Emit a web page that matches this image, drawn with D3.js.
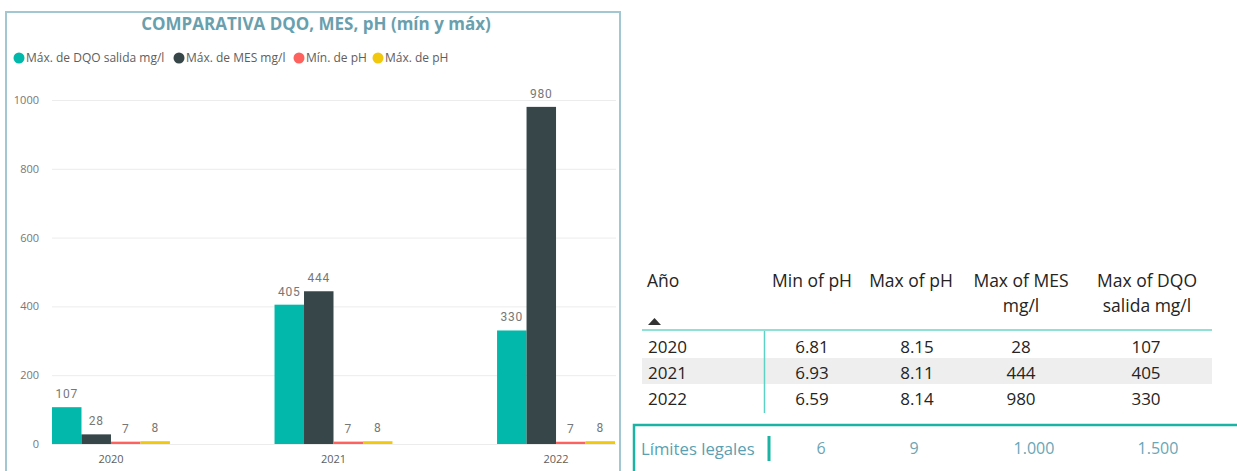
<!DOCTYPE html>
<html>
<head>
<meta charset="utf-8">
<script src="https://cdn.jsdelivr.net/npm/d3@7"></script>
<style>
  body { margin: 0; background: #fff; }
  svg { display: block; font-family: "Open Sans", sans-serif; }
</style>
</head>
<body>
<svg width="1237" height="471"></svg>
<script>
var years = ["2020", "2021", "2022"];
var dqoMax = [107, 405, 330];
var mesMax = [28, 444, 980];
var phMin = [6.81, 6.93, 6.59];
var phMax = [8.15, 8.11, 8.14];
var seriesNames = ["Máx. de DQO salida mg/l", "Máx. de MES mg/l", "Mín. de pH", "Máx. de pH"];
var seriesColors = ["#01B8AA", "#374649", "#FD625E", "#F2C80F"];
var yTicks = [0, 200, 400, 600, 800, 1000];
var tableHeaders = [["Año"], ["Min of pH"], ["Max of pH"], ["Max of MES", "mg/l"], ["Max of DQO", "salida mg/l"]];
var limitLabel = "Límites legales";
var limits = [6, 9, 1000, 1500];

var svg = d3.select("svg");
var es = d3.formatLocale({ decimal: ",", thousands: ".", grouping: [3], currency: ["", "€"] });

// ---------- panel del grafico ----------
svg.append("rect")
  .attr("x", 6).attr("y", 12).attr("width", 614).attr("height", 480)
  .attr("fill", "none").attr("stroke", "#a3c7d2").attr("stroke-width", 2);

svg.append("text")
  .attr("x", 316).attr("y", 30)
  .attr("text-anchor", "middle")
  .attr("font-size", 17).attr("font-weight", "bold")
  .attr("fill", "#6a9fae")
  .text("COMPARATIVA DQO, MES, pH (mín y máx)");

// leyenda
var legendX = [19, 179, 299, 378];
var lg = svg.append("g").selectAll("g")
  .data(seriesNames)
  .join("g")
  .attr("transform", function (d, i) { return "translate(" + legendX[i] + ",58)"; });
lg.append("circle").attr("r", 5.5).attr("fill", function (d, i) { return seriesColors[i]; });
lg.append("text")
  .attr("x", 7).attr("dy", "0.35em")
  .attr("font-size", 12).attr("fill", "#605e5c")
  .text(function (d) { return d; });

var y = d3.scaleLinear().domain([0, 1000]).range([444, 100]);
var x0 = d3.scaleBand().domain(years).range([52, 615]).paddingInner(0.47).paddingOuter(0);
var keys = d3.range(seriesNames.length);
var x1 = d3.scaleBand().domain(keys).range([0, x0.bandwidth()]).padding(0);

// rejilla
var yAxis = d3.axisLeft(y).tickValues(yTicks).tickSize(-(616 - 52)).tickFormat(d3.format("d"));
var ga = svg.append("g").attr("transform", "translate(52,0)").call(yAxis);
ga.select(".domain").remove();
ga.selectAll(".tick line").attr("stroke", "#ececec");
ga.selectAll(".tick text")
  .attr("x", -13)
  .attr("font-size", 11).attr("fill", "#777")
  .attr("font-family", "Open Sans, sans-serif");

var xAxis = d3.axisBottom(x0).tickSize(0);
var gx = svg.append("g").attr("transform", "translate(0,452)").call(xAxis);
gx.select(".domain").remove();
gx.selectAll(".tick text")
  .attr("font-size", 11).attr("fill", "#605e5c")
  .attr("font-family", "Open Sans, sans-serif");

var rows = years.map(function (yr, i) {
  return { year: yr, vals: [dqoMax[i], mesMax[i], phMin[i], phMax[i]] };
});

var groups = svg.append("g").selectAll("g")
  .data(rows)
  .join("g")
  .attr("transform", function (d) { return "translate(" + x0(d.year) + ",0)"; });

groups.selectAll("rect")
  .data(function (d) { return d.vals; })
  .join("rect")
  .attr("x", function (d, i) { return x1(i); })
  .attr("y", function (d) { return y(d); })
  .attr("width", x1.bandwidth())
  .attr("height", function (d) { return y(0) - y(d); })
  .attr("fill", function (d, i) { return seriesColors[i]; });

groups.selectAll("text")
  .data(function (d) { return d.vals; })
  .join("text")
  .attr("x", function (d, i) { return x1(i) + x1.bandwidth() / 2; })
  .attr("y", function (d) { return y(d) - 9; })
  .attr("text-anchor", "middle")
  .attr("font-family", "Roboto, sans-serif")
  .attr("font-size", 12).attr("letter-spacing", 0.7)
  .attr("fill", "#777")
  .text(function (d) { return d3.format(".0f")(d); });

// ---------- tabla ----------
var colX = [647, 812, 911, 1021, 1147];
var valX = [648, 812, 917, 1021, 1146];
var tb = svg.append("g").attr("fill", "#252423");

tableHeaders.forEach(function (lines, c) {
  lines.forEach(function (ln, k) {
    tb.append("text")
      .attr("x", colX[c]).attr("y", 287 + k * 25)
      .attr("text-anchor", c === 0 ? "start" : "middle")
      .attr("font-size", 17.5)
      .text(ln);
  });
});
tb.append("path").attr("d", "M648,325 L661,325 L654.5,318 Z").attr("fill", "#333");

var rowY = d3.scaleBand().domain(years).range([331, 409]);
tb.append("rect")
  .attr("x", 642).attr("y", rowY("2021") + 1)
  .attr("width", 570).attr("height", rowY.bandwidth())
  .attr("fill", "#eeeeee");
tb.append("line")
  .attr("x1", 642).attr("x2", 1212).attr("y1", 330).attr("y2", 330)
  .attr("stroke", "#8fe0d5").attr("stroke-width", 2);
tb.append("line")
  .attr("x1", 764.5).attr("x2", 764.5).attr("y1", 331).attr("y2", 413)
  .attr("stroke", "#5ed1c4").attr("stroke-width", 1.5);

years.forEach(function (yr, i) {
  var cells = [yr, d3.format(".2f")(phMin[i]), d3.format(".2f")(phMax[i]), mesMax[i], dqoMax[i]];
  cells.forEach(function (v, c) {
    tb.append("text")
      .attr("x", valX[c]).attr("y", rowY(yr) + rowY.bandwidth() / 2 + 2.5)
      .attr("dy", "0.36em")
      .attr("text-anchor", c === 0 ? "start" : "middle")
      .attr("font-size", 17)
      .text(v);
  });
});

// caja de limites legales
svg.append("rect")
  .attr("x", 634).attr("y", 425).attr("width", 620).attr("height", 60)
  .attr("fill", "none").attr("stroke", "#1ab3a4").attr("stroke-width", 2.5);
svg.append("rect")
  .attr("x", 767.5).attr("y", 436).attr("width", 3).attr("height", 25)
  .attr("fill", "#1ab3a4");
svg.append("text")
  .attr("x", 641).attr("y", 449).attr("dy", "0.36em")
  .attr("font-size", 16.7).attr("fill", "#5a9fb2")
  .text(limitLabel);
var limX = [821, 914, 1034, 1158];
limits.forEach(function (v, c) {
  svg.append("text")
    .attr("x", limX[c]).attr("y", 448).attr("dy", "0.36em")
    .attr("text-anchor", "middle")
    .attr("font-size", 16).attr("fill", "#6aa6b5")
    .text(es.format(",")(v));
});
</script>
</body>
</html>
